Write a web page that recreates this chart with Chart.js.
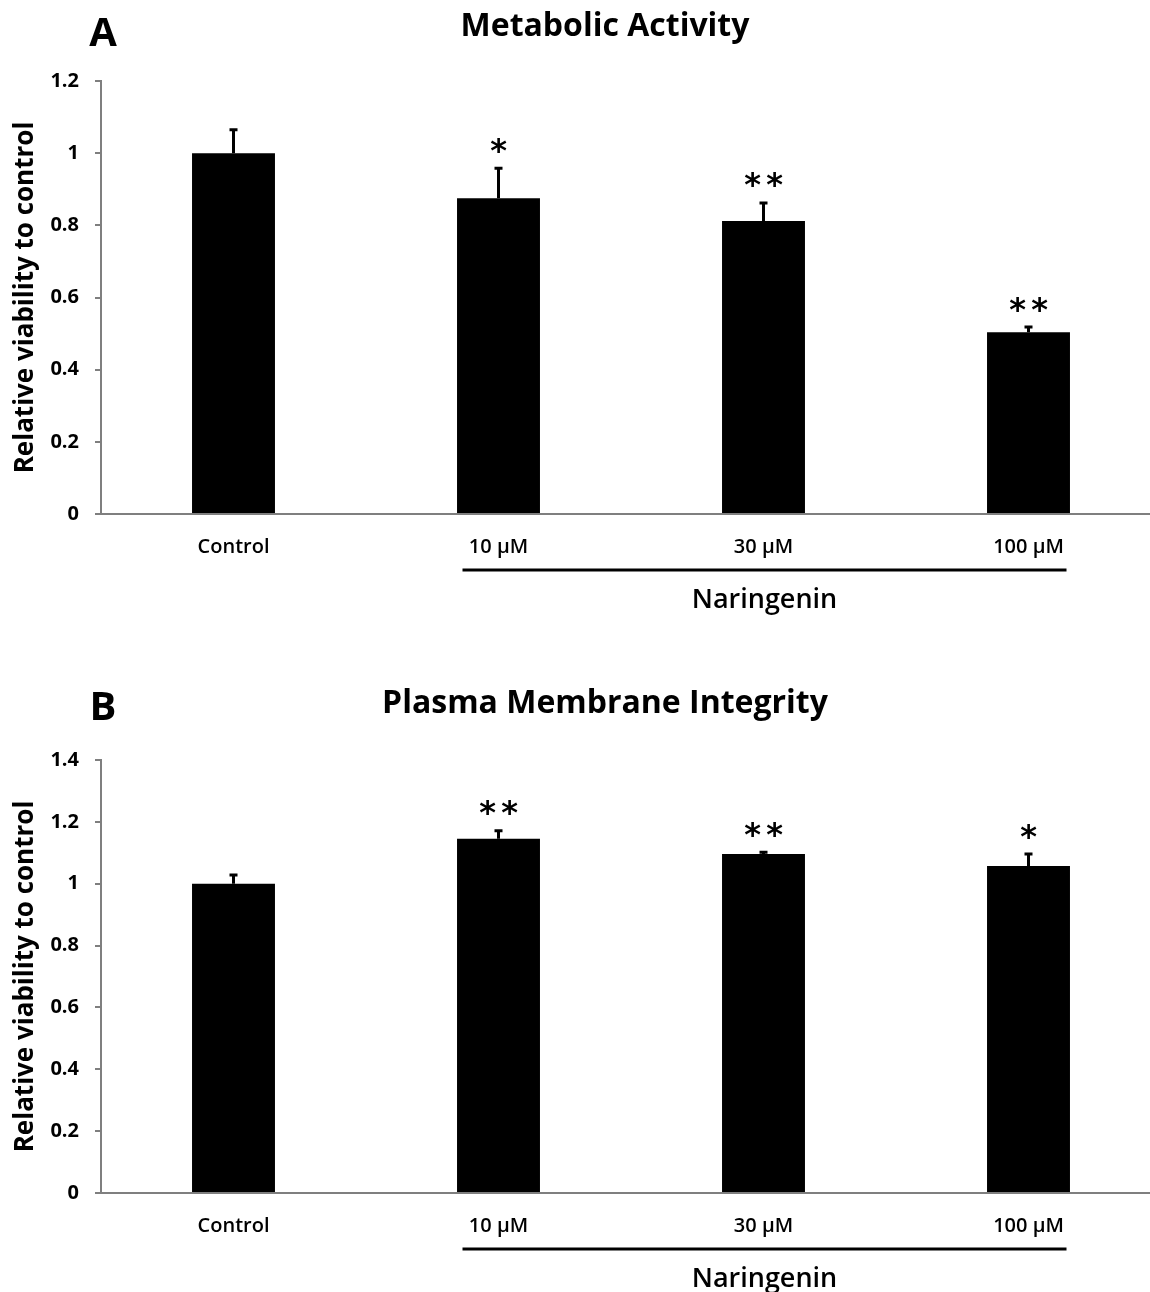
<!DOCTYPE html>
<html>
<head>
<meta charset="utf-8">
<script src="https://cdn.jsdelivr.net/npm/chart.js@4.4.0/dist/chart.umd.min.js"></script>
<style>
    html, body { margin: 0; padding: 0; background: #fff; overflow: hidden; }
    .panel { position: absolute; left: 0; width: 1165px; height: 679px; }
    #panelA { top: 0; }
    #panelB { top: 679px; }
</style>
</head>
<body>
<div class="panel" id="panelA"><canvas id="chartA"></canvas></div>
<div class="panel" id="panelB"><canvas id="chartB"></canvas></div>
<script>
// Data
const categories = ['Control', '10 µM', '30 µM', '100 µM'];

const metabolicValues = [1.0, 0.875, 0.812, 0.504];
const metabolicErrors = [0.065, 0.083, 0.05, 0.014];
const metabolicSig = ['', '*', '**', '**'];
const metabolicTicks = [0, 0.2, 0.4, 0.6, 0.8, 1, 1.2];

const membraneValues = [1.0, 1.145, 1.096, 1.057];
const membraneErrors = [0.028, 0.026, 0.006, 0.039];
const membraneSig = ['', '**', '**', '*'];
const membraneTicks = [0, 0.2, 0.4, 0.6, 0.8, 1, 1.2, 1.4];

const axisGrey = '#7f7f7f';

// error bars, asterisks, panel letter, title and the Naringenin bracket
const decorPlugin = {
    id: 'decor',
    afterDatasetsDraw(chart, args, opts) {
        const ctx = chart.ctx;
        const yScale = chart.scales.y;
        const meta = chart.getDatasetMeta(0);
        ctx.save();
        ctx.strokeStyle = '#000';
        ctx.lineWidth = 3;
        meta.data.forEach((bar, i) => {
            const top = yScale.getPixelForValue(opts.values[i] + opts.errors[i]);
            ctx.beginPath();
            ctx.moveTo(bar.x, bar.y);
            ctx.lineTo(bar.x, top);
            ctx.moveTo(bar.x - 4, top);
            ctx.lineTo(bar.x + 4, top);
            ctx.stroke();

            // significance stars
            const stars = opts.sig[i];
            if (stars) {
                ctx.fillStyle = '#000';
                ctx.font = 'bold 32px "DejaVu Sans"';
                ctx.textAlign = 'center';
                ctx.textBaseline = 'alphabetic';
                const m = ctx.measureText('*');
                const cy = top - 23;
                const y = cy + (m.actualBoundingBoxAscent - m.actualBoundingBoxDescent) / 2;
                const n = stars.length;
                for (let k = 0; k < n; k++) {
                    const x = bar.x + (k - (n - 1) / 2) * 22;
                    ctx.fillText('*', x, y);
                }
            }
        });
        ctx.restore();
    },
    afterDraw(chart, args, opts) {
        const ctx = chart.ctx;
        const xScale = chart.scales.x;
        const bottom = chart.chartArea.bottom;
        ctx.save();
        ctx.fillStyle = '#000';
        ctx.textAlign = 'center';
        ctx.textBaseline = 'middle';

        ctx.font = 'bold 40px "Open Sans"';
        ctx.fillText(opts.letter, 103, opts.letterY);

        ctx.font = 'bold 32px "Open Sans"';
        ctx.fillText(opts.title, 605, opts.titleY);

        // bracket under the Naringenin doses
        const x1 = xScale.getPixelForValue(1) - 36;
        const x2 = xScale.getPixelForValue(3) + 38;
        ctx.strokeStyle = '#000';
        ctx.lineWidth = 3;
        ctx.beginPath();
        ctx.moveTo(x1, bottom + 56);
        ctx.lineTo(x2, bottom + 56);
        ctx.stroke();

        ctx.font = '600 27px "Open Sans"';
        ctx.fillText('Naringenin', (x1 + x2) / 2, bottom + 86);
        ctx.restore();
    }
};

function makeChart(id, values, errors, sig, ticks, yMax, letter, title, letterY, titleY) {
    const ctx = document.getElementById(id).getContext('2d');
    return new Chart(ctx, {
        type: 'bar',
        data: {
            labels: categories,
            datasets: [{
                data: values,
                backgroundColor: '#000',
                borderWidth: 0,
                barPercentage: 0.313,
                categoryPercentage: 1
            }]
        },
        options: {
            responsive: true,
            maintainAspectRatio: false,
            animation: false,
            layout: { padding: { top: 81, right: 4, left: 0, bottom: 0 } },
            scales: {
                x: {
                    grid: { display: false, drawTicks: false },
                    border: { display: true, color: axisGrey, width: 2 },
                    ticks: {
                        color: '#000',
                        font: { family: 'Open Sans', size: 20, weight: '600' },
                        padding: 21,
                        maxRotation: 0
                    },
                    afterFit: s => { s.height = 165; }
                },
                y: {
                    min: 0,
                    max: yMax,
                    grid: { drawOnChartArea: false, drawTicks: true, tickLength: 6, color: axisGrey, lineWidth: 2 },
                    border: { display: true, color: axisGrey, width: 2 },
                    afterBuildTicks: s => { s.ticks = ticks.map(v => ({ value: v })); },
                    ticks: {
                        color: '#000',
                        font: { family: 'Open Sans', size: 20, weight: 'bold' },
                        padding: 16,
                        callback: v => String(v)
                    },
                    title: {
                        display: true,
                        text: 'Relative viability to control',
                        color: '#000',
                        font: { family: 'Open Sans', size: 26, weight: 'bold' },
                        padding: { top: 10, bottom: 0 }
                    },
                    afterFit: s => { s.width = 101; }
                }
            },
            plugins: {
                legend: { display: false },
                tooltip: { enabled: false },
                title: { display: false },
                decor: {
                    values: values,
                    errors: errors,
                    sig: sig,
                    letter: letter,
                    title: title,
                    letterY: letterY,
                    titleY: titleY
                }
            }
        },
        plugins: [decorPlugin]
    });
}

makeChart('chartA', metabolicValues, metabolicErrors, metabolicSig, metabolicTicks, 1.2,
    'A', 'Metabolic Activity', 35, 27);
makeChart('chartB', membraneValues, membraneErrors, membraneSig, membraneTicks, 1.4,
    'B', 'Plasma Membrane Integrity', 30, 25);
</script>
</body>
</html>
